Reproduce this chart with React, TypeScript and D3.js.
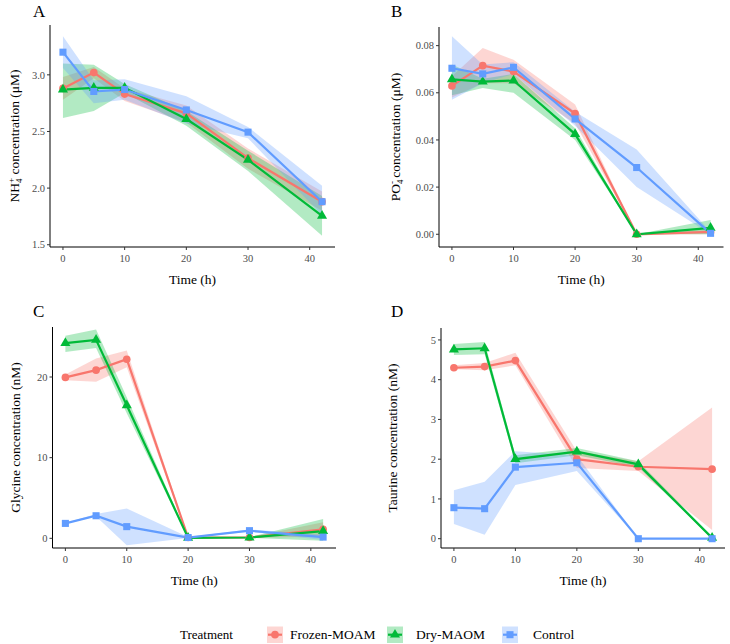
import React from "react";
import * as d3 from "d3";

const times = [0, 5, 10, 20, 30, 42];
const xTicks = [0, 10, 20, 30, 40];
const treatments = ["Frozen-MOAM", "Dry-MAOM", "Control"];
const colors = ["#F8766D", "#00BA38", "#619CFF"];
const shapes = [d3.symbolCircle, d3.symbolTriangle, d3.symbolSquare];
const shapeSizes = [46, 44, 50];

// A: NH4+ (uM)
const nh4Frozen = [2.88, 3.02, 2.83, 2.66, 2.265, 1.88];
const nh4FrozenLo = [2.78, 2.97, 2.77, 2.58, 2.17, 1.8];
const nh4FrozenHi = [2.98, 3.07, 2.88, 2.73, 2.35, 1.97];
const nh4Dry = [2.87, 2.885, 2.885, 2.61, 2.25, 1.755];
const nh4DryLo = [2.62, 2.68, 2.84, 2.55, 2.15, 1.58];
const nh4DryHi = [3.1, 3.09, 2.92, 2.68, 2.33, 1.93];
const nh4Control = [3.2, 2.853, 2.87, 2.69, 2.494, 1.88];
const nh4ControlLo = [3.06, 2.75, 2.78, 2.57, 2.44, 1.76];
const nh4ControlHi = [3.34, 2.95, 2.96, 2.81, 2.54, 2.02];
const nh4Ticks = [1.5, 2.0, 2.5, 3.0];

// B: PO4- (uM)
const po4Frozen = [0.0629, 0.0715, 0.069, 0.0512, 0, 0.001];
const po4FrozenLo = [0.058, 0.064, 0.064, 0.047, 0, 0];
const po4FrozenHi = [0.067, 0.079, 0.074, 0.055, 0, 0.002];
const po4Dry = [0.0657, 0.0647, 0.0652, 0.0425, 0, 0.0027];
const po4DryLo = [0.059, 0.062, 0.06, 0.04, 0, 0];
const po4DryHi = [0.072, 0.066, 0.068, 0.045, 0, 0.006];
const po4Control = [0.0704, 0.068, 0.0708, 0.0489, 0.0283, 0.0004];
const po4ControlLo = [0.057, 0.064, 0.068, 0.046, 0.02, 0];
const po4ControlHi = [0.084, 0.072, 0.073, 0.052, 0.036, 0.001];
const po4Ticks = [0, 0.02, 0.04, 0.06, 0.08];

// C: glycine (nM)
const glyFrozen = [19.95, 20.85, 22.2, 0.1, 0.1, 1.1];
const glyFrozenLo = [19.6, 19.4, 21.2, 0, 0.05, 0.2];
const glyFrozenHi = [20.3, 22.3, 23.3, 0.2, 0.15, 2.0];
const glyDry = [24.2, 24.6, 16.5, 0.05, 0.1, 0.9];
const glyDryLo = [23.1, 23.6, 15.5, 0, 0.05, -0.3];
const glyDryHi = [25.1, 25.9, 17.5, 0.15, 0.15, 2.4];
const glyControl = [1.85, 2.8, 1.45, 0.1, 0.95, 0.15];
const glyControlLo = [1.8, 2.7, -0.85, 0.05, 0.8, -0.2];
const glyControlHi = [1.9, 3.0, 3.7, 0.15, 1.1, 0.45];
const glyTicks = [0, 10, 20];

// D: taurine (nM)
const tauFrozen = [4.3, 4.33, 4.48, 2.0, 1.81, 1.75];
const tauFrozenLo = [4.26, 4.24, 4.36, 1.78, 1.7, 0.22];
const tauFrozenHi = [4.36, 4.42, 4.68, 2.2, 1.95, 3.3];
const tauDry = [4.76, 4.79, 2.0, 2.19, 1.87, 0.02];
const tauDryLo = [4.62, 4.64, 1.9, 2.1, 1.8, 0];
const tauDryHi = [4.9, 4.95, 2.1, 2.28, 1.95, 0.05];
const tauControl = [0.78, 0.755, 1.8, 1.91, 0, 0];
const tauControlLo = [0.37, 0.1, 1.35, 1.7, 0, 0];
const tauControlHi = [1.22, 1.43, 2.2, 2.1, 0, 0];
const tauTicks = [0, 1, 2, 3, 4, 5];

const FONT = "'Liberation Serif', 'Times New Roman', serif";

const yTitles: Record<string, React.ReactNode> = {
  A: (
    <>
      NH<tspan fontSize={9} dy={3}>4</tspan>
      <tspan fontSize={9} dy={-8} dx={-4.5}>+</tspan>
      <tspan dy={5}> concentration (μM)</tspan>
    </>
  ),
  B: (
    <>
      PO<tspan fontSize={9} dy={3}>4</tspan>
      <tspan fontSize={9} dy={-8} dx={-4.5}>-</tspan>
      <tspan dy={5}> concentration (μM)</tspan>
    </>
  ),
  C: "Glycine concentration (nM)",
  D: "Taurine concentration (nM)",
};

const panels = [
  {
    letter: "A", x0: 50, x1: 335, y0: 25, y1: 247, yDomain: [1.48, 3.44],
    yTicks: nh4Ticks, fmt: d3.format(".1f"), titleX: 19, letterX: 33, letterY: 17,
    series: [
      [nh4Frozen, nh4FrozenLo, nh4FrozenHi],
      [nh4Dry, nh4DryLo, nh4DryHi],
      [nh4Control, nh4ControlLo, nh4ControlHi],
    ],
  },
  {
    letter: "B", x0: 439, x1: 723.5, y0: 27, y1: 247, yDomain: [-0.0054, 0.0879],
    yTicks: po4Ticks, fmt: d3.format(".2f"), titleX: 400, letterX: 391, letterY: 17,
    series: [
      [po4Frozen, po4FrozenLo, po4FrozenHi],
      [po4Dry, po4DryLo, po4DryHi],
      [po4Control, po4ControlLo, po4ControlHi],
    ],
  },
  {
    letter: "C", x0: 52.5, x1: 336, y0: 327, y1: 548, yDomain: [-1.2, 26.2],
    yTicks: glyTicks, fmt: d3.format("d"), titleX: 20, letterX: 33, letterY: 317,
    series: [
      [glyFrozen, glyFrozenLo, glyFrozenHi],
      [glyDry, glyDryLo, glyDryHi],
      [glyControl, glyControlLo, glyControlHi],
    ],
  },
  {
    letter: "D", x0: 441, x1: 725, y0: 328, y1: 548, yDomain: [-0.234, 5.3],
    yTicks: tauTicks, fmt: d3.format("d"), titleX: 397, letterX: 391, letterY: 317,
    series: [
      [tauFrozen, tauFrozenLo, tauFrozenHi],
      [tauDry, tauDryLo, tauDryHi],
      [tauControl, tauControlLo, tauControlHi],
    ],
  },
];

const Panel = ({ p }: { p: (typeof panels)[number] }) => {
  const x = d3.scaleLinear().domain([-2.1, 44.1]).range([p.x0, p.x1]);
  const y = d3.scaleLinear().domain(p.yDomain).range([p.y1, p.y0]);

  const area = (lo: number[], hi: number[]) =>
    d3.area<number>()
      .x((t) => x(t))
      .y0((_, i) => y(lo[i]))
      .y1((_, i) => y(hi[i]))(times);
  const line = (m: number[]) =>
    d3.line<number>()
      .x((t) => x(t))
      .y((_, i) => y(m[i]))(times);

  const midY = (p.y0 + p.y1) / 2;
  return (
    <g>
      <text x={p.letterX} y={p.letterY} fontSize={17}>{p.letter}</text>
      {/* ribbons */}
      {p.series.map((s, k) => (
        <path key={"r" + k} d={area(s[1], s[2]) || ""} fill={colors[k]} fillOpacity={0.3} stroke="none" />
      ))}
      {/* lines */}
      {p.series.map((s, k) => (
        <path key={"l" + k} d={line(s[0]) || ""} fill="none" stroke={colors[k]} strokeWidth={2.2} />
      ))}
      {/* points */}
      {p.series.map((s, k) =>
        s[0].map((v, i) => (
          <path
            key={"p" + k + "-" + i}
            transform={`translate(${x(times[i])},${y(v)})`}
            d={d3.symbol().type(shapes[k]).size(shapeSizes[k])() || ""}
            fill={colors[k]}
          />
        ))
      )}
      {/* axes */}
      <line x1={p.x0} x2={p.x0} y1={p.y0} y2={p.y1} stroke="#000" strokeWidth={1} />
      <line x1={p.x0} x2={p.x1} y1={p.y1} y2={p.y1} stroke="#000" strokeWidth={1} />
      {p.yTicks.map((t) => (
        <g key={"yt" + t}>
          <line x1={p.x0 - 3} x2={p.x0} y1={y(t)} y2={y(t)} stroke="#333" />
          <text x={p.x0 - 5} y={y(t)} dy="0.35em" textAnchor="end" fontSize={10.5} fill="#4D4D4D">
            {p.fmt(t)}
          </text>
        </g>
      ))}
      {xTicks.map((t) => (
        <g key={"xt" + t}>
          <line x1={x(t)} x2={x(t)} y1={p.y1} y2={p.y1 + 3} stroke="#333" />
          <text x={x(t)} y={p.y1 + 15} textAnchor="middle" fontSize={10.5} fill="#4D4D4D">
            {t}
          </text>
        </g>
      ))}
      <text x={(p.x0 + p.x1) / 2} y={p.y1 + 37} textAnchor="middle" fontSize={13.5}>
        Time (h)
      </text>
      <text
        transform={`translate(${p.titleX},${midY}) rotate(-90)`}
        textAnchor="middle"
        fontSize={13.5}
      >
        {yTitles[p.letter]}
      </text>
    </g>
  );
};

const legendKeyX = [267, 387, 502];
const legendLabelX = [290, 416, 533];

const App = () => {
  return (
    <svg
      width={730}
      height={644}
      style={{ position: "absolute", left: 0, top: 0, background: "#fff" }}
      fontFamily={FONT}
    >
      <rect width={730} height={644} fill="#fff" />
      {panels.map((p) => (
        <Panel key={p.letter} p={p} />
      ))}
      <g>
        <text x={180} y={639} fontSize={13}>Treatment</text>
        {treatments.map((name, k) => (
          <g key={name}>
            <rect x={legendKeyX[k]} y={626.5} width={16} height={16.5} fill={colors[k]} fillOpacity={0.3} />
            <line x1={legendKeyX[k] + 1} x2={legendKeyX[k] + 15} y1={634.7} y2={634.7} stroke={colors[k]} strokeWidth={2.2} />
            <path
              transform={`translate(${legendKeyX[k] + 8},634.7)`}
              d={d3.symbol().type(shapes[k]).size(shapeSizes[k])() || ""}
              fill={colors[k]}
            />
            <text x={legendLabelX[k]} y={639} fontSize={13.5}>{name}</text>
          </g>
        ))}
      </g>
    </svg>
  );
};

export default App;
